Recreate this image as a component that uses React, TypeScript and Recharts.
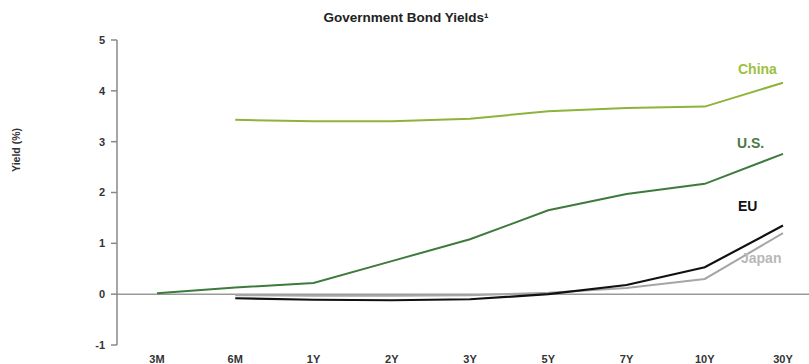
import React from 'react';
import { LineChart, Line, XAxis, YAxis, ReferenceLine, LabelList } from 'recharts';

const categories = ['3M', '6M', '1Y', '2Y', '3Y', '5Y', '7Y', '10Y', '30Y'];
const china = [null, 3.43, 3.4, 3.4, 3.45, 3.6, 3.66, 3.69, 4.16];
const us = [0.02, 0.13, 0.22, 0.65, 1.08, 1.65, 1.97, 2.17, 2.76];
const eu = [null, -0.08, -0.11, -0.12, -0.1, 0.0, 0.18, 0.53, 1.35];
const japan = [null, -0.02, -0.03, -0.03, -0.02, 0.03, 0.12, 0.3, 1.2];
const yTicks = [-1, 0, 1, 2, 3, 4, 5];

const data = categories.map((c, i) => ({ cat: c, china: china[i], us: us[i], eu: eu[i], japan: japan[i] }));

const FONT = '"Liberation Sans", Arial, sans-serif';

const endLabel = (text: string, color: string, dx: number, dy: number) => (props: any) => {
  const { x, y, index } = props;
  if (index !== categories.length - 1) return null;
  return (
    <text x={x + dx} y={y + dy} fill={color} fontFamily={FONT} fontWeight="bold" fontSize={14} textAnchor="start" dominantBaseline="middle">
      {text}
    </text>
  );
};

export default function App() {
  return (
    <div style={{ position: 'absolute', left: 0, top: 0, background: '#fff' }}>
      <LineChart width={809} height={364} data={data} margin={{ top: 40, right: 0, bottom: 0, left: 0 }}>
        <text x={406} y={18} textAnchor="middle" dominantBaseline="middle" fontFamily={FONT} fontWeight="bold" fontSize={13.5} fill="#222">
          Government Bond Yields¹
        </text>
        <text x={17} y={150} transform="rotate(-90 17 150)" textAnchor="middle" dominantBaseline="middle" fontFamily={FONT} fontWeight="bold" fontSize={10.5} fill="#333">
          Yield (%)
        </text>
        <XAxis
          dataKey="cat"
          axisLine={false}
          tickLine={false}
          padding={{ left: 40, right: 26 }}
          tick={{ fontFamily: FONT, fontWeight: 'bold', fontSize: 11, fill: '#333' }}
          tickMargin={4}
          interval={0}
          height={19}
        />
        <YAxis
          domain={[-1, 5]}
          ticks={yTicks}
          width={117}
          axisLine={{ stroke: '#888', strokeWidth: 1.5 }}
          tickLine={{ stroke: '#888', strokeWidth: 1.5 }}
          tickSize={6}
          tick={{ fontFamily: FONT, fontWeight: 'bold', fontSize: 11, fill: '#333' }}
          tickMargin={6}
        />
        <ReferenceLine y={0} stroke="#999" strokeWidth={1.5} />
        <Line dataKey="japan" stroke="#a6a6a6" strokeWidth={2} dot={false} isAnimationActive={false} connectNulls={false}>
          <LabelList dataKey="japan" content={endLabel('Japan', '#b8b8b8', -42, 26)} />
        </Line>
        <Line dataKey="eu" stroke="#111" strokeWidth={2.2} dot={false} isAnimationActive={false}>
          <LabelList dataKey="eu" content={endLabel('EU', '#111', -45, -18)} />
        </Line>
        <Line dataKey="us" stroke="#3e7a3c" strokeWidth={2} dot={false} isAnimationActive={false}>
          <LabelList dataKey="us" content={endLabel('U.S.', '#4a7a44', -46, -10)} />
        </Line>
        <Line dataKey="china" stroke="#8cb43a" strokeWidth={2} dot={false} isAnimationActive={false}>
          <LabelList dataKey="china" content={endLabel('China', '#9cc040', -45, -12)} />
        </Line>
      </LineChart>
    </div>
  );
}
